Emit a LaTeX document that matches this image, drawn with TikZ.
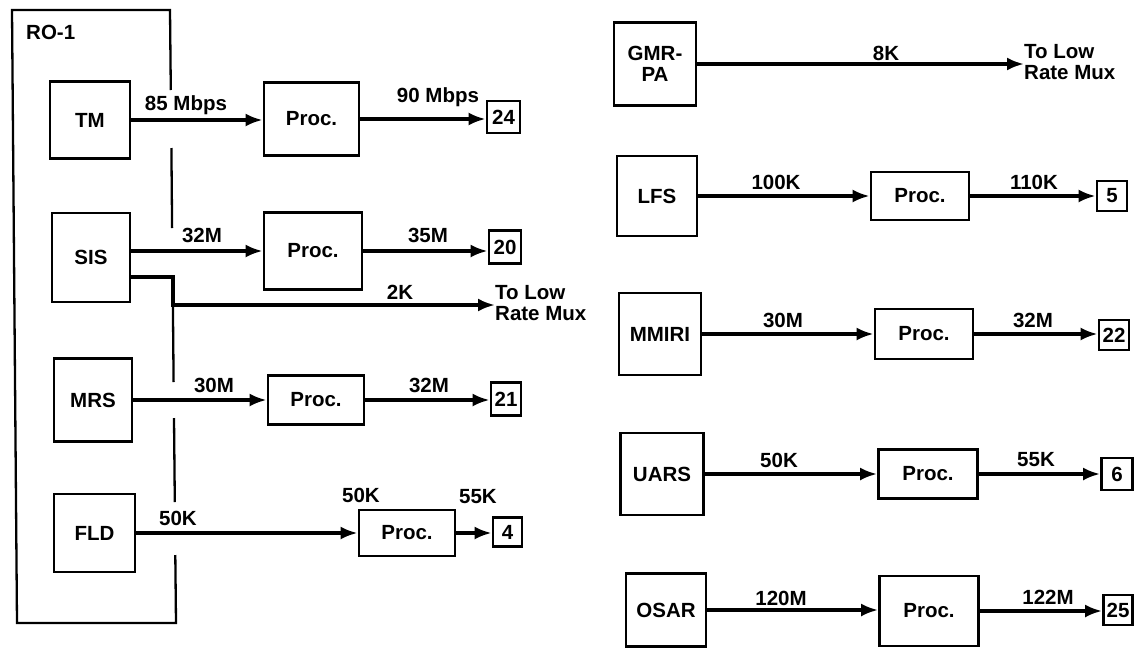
\documentclass[tikz,border=0pt]{standalone}
\usepackage{fontspec}
\setmainfont{Liberation Sans}
\usetikzlibrary{arrows.meta}
\newcommand\dgfont{\fontsize{20.5}{21}\selectfont\bfseries}
\begin{document}
\begin{tikzpicture}[x=1pt,y=-1pt,
  box/.style={draw,line width=2.7pt,inner sep=0pt,font=\dgfont,align=center},
  lab/.style={inner sep=0pt,font=\dgfont},
  arr/.style={line width=3.3pt,-{Latex[length=17pt,width=13pt]}},
  rim/.style={line width=2.3pt}]
\useasboundingbox (0,0) rectangle (1137,648);

% RO-1 enclosure
\node[lab,anchor=west] (ro) at (26,32) {RO-1};
\draw[rim] (170.8,90) -- (170,10) -- (12,10) -- (17,623) -- (176,623) -- (175.3,555);
\draw[rim] (171.4,148) -- (172.1,228);
\draw[rim] (172.9,305) -- (173.6,382);
\draw[rim] (174,418) -- (174.8,502);

% left column
\node[box,minimum width=80pt,minimum height=77pt] (TM) at (90,120) {TM};
\node[box,minimum width=95pt,minimum height=73pt] (P1) at (311.5,119) {Proc.};
\node[box,minimum width=33pt,minimum height=32pt] (B24) at (503.5,117) {24};
\node[box,minimum width=78pt,minimum height=89pt] (SIS) at (91,257.5) {SIS};
\node[box,minimum width=98pt,minimum height=77pt] (P2) at (313,251) {Proc.};
\node[box,minimum width=32pt,minimum height=33pt] (B20) at (505,247) {20};
\node[lab,align=left,anchor=west] (M1) at (495,303) {To Low\\Rate Mux};
\coordinate (st) at (173,305);
\node[box,minimum width=78pt,minimum height=83pt] (MRS) at (93,400) {MRS};
\node[box,minimum width=96pt,minimum height=49pt] (P3) at (316,400) {Proc.};
\node[box,minimum width=30pt,minimum height=33pt] (B21) at (506,399) {21};
\node[box,minimum width=81pt,minimum height=78pt] (FLD) at (94.5,533) {FLD};
\node[box,minimum width=96pt,minimum height=46pt] (P4) at (407,533) {Proc.};
\node[box,minimum width=29pt,minimum height=29pt] (B4) at (507.5,532) {4};

\draw[arr] (TM.east) -- (TM.east -| P1.west);
\draw[arr] (P1.east) -- (P1.east -| B24.west);
\draw[arr] (SIS.east |- P2.west) -- (P2.west);
\draw[arr] (P2.east) -- (P2.east -| B20.west);
\draw[arr] ([yshift=-19.5pt]SIS.east) -| (st) -- (st -| M1.west);
\draw[arr] (MRS.east) -- (MRS.east -| P3.west);
\draw[arr] (P3.east) -- (P3.east -| B21.west);
\draw[arr] (FLD.east) -- (FLD.east -| P4.west);
\draw[arr] (P4.east) -- (P4.east -| B4.west);

\node[lab] (l1) at (186,105) {85 Mbps};
\node[lab] (l2) at (438,97) {90 Mbps};
\node[lab] (l3) at (202,235) {32M};
\node[lab] (l4) at (428,235) {35M};
\node[lab] (l5) at (400,292) {2K};
\node[lab] (l6) at (214,385) {30M};
\node[lab] (l7) at (429,385) {32M};
\node[lab] (l8) at (178,518) {50K};
\node[lab] (l9) at (361,495) {50K};
\node[lab] (l10) at (478,497) {55K};

% right column
\node[box,minimum width=82pt,minimum height=83pt] (GMR) at (655,64) {GMR-\\PA};
\node[lab,align=left,anchor=west] (M2) at (1024,62) {To Low\\Rate Mux};
\node[box,minimum width=80pt,minimum height=80pt] (LFS) at (657,196) {LFS};
\node[box,minimum width=98pt,minimum height=48pt] (PL) at (920,196) {Proc.};
\node[box,minimum width=30pt,minimum height=30pt] (B5) at (1112,196) {5};
\node[box,minimum width=82pt,minimum height=82pt] (MMIRI) at (660,334) {MMIRI};
\node[box,minimum width=98pt,minimum height=50pt] (PM) at (924,334) {Proc.};
\node[box,minimum width=30pt,minimum height=30pt] (B22) at (1114,335) {22};
\node[box,minimum width=83pt,minimum height=82pt] (UARS) at (662,474) {UARS};
\node[box,minimum width=99pt,minimum height=49pt] (PU) at (928,474) {Proc.};
\node[box,minimum width=31pt,minimum height=32pt] (B6) at (1117,474) {6};
\node[box,minimum width=80pt,minimum height=73pt] (OSAR) at (666,610) {OSAR};
\node[box,minimum width=99pt,minimum height=70pt] (PO) at (929,611) {Proc.};
\node[box,minimum width=29pt,minimum height=30pt] (B25) at (1118,610) {25};

\draw[arr] (GMR.east) -- (GMR.east -| M2.west);
\draw[arr] (LFS.east) -- (LFS.east -| PL.west);
\draw[arr] (PL.east) -- (PL.east -| B5.west);
\draw[arr] (MMIRI.east) -- (MMIRI.east -| PM.west);
\draw[arr] (PM.east) -- (PM.east -| B22.west);
\draw[arr] (UARS.east) -- (UARS.east -| PU.west);
\draw[arr] (PU.east) -- (PU.east -| B6.west);
\draw[arr] (OSAR.east) -- (OSAR.east -| PO.west);
\draw[arr] (PO.east) -- (PO.east -| B25.west);

\node[lab] (r1) at (886,53) {8K};
\node[lab] (r2) at (776,182) {100K};
\node[lab] (r3) at (1034,182) {110K};
\node[lab] (r4) at (783,320) {30M};
\node[lab] (r5) at (1033,320) {32M};
\node[lab] (r6) at (779,460) {50K};
\node[lab] (r7) at (1036,460) {55K};
\node[lab] (r8) at (781,598) {120M};
\node[lab] (r9) at (1048,597) {122M};
\end{tikzpicture}
\end{document}
